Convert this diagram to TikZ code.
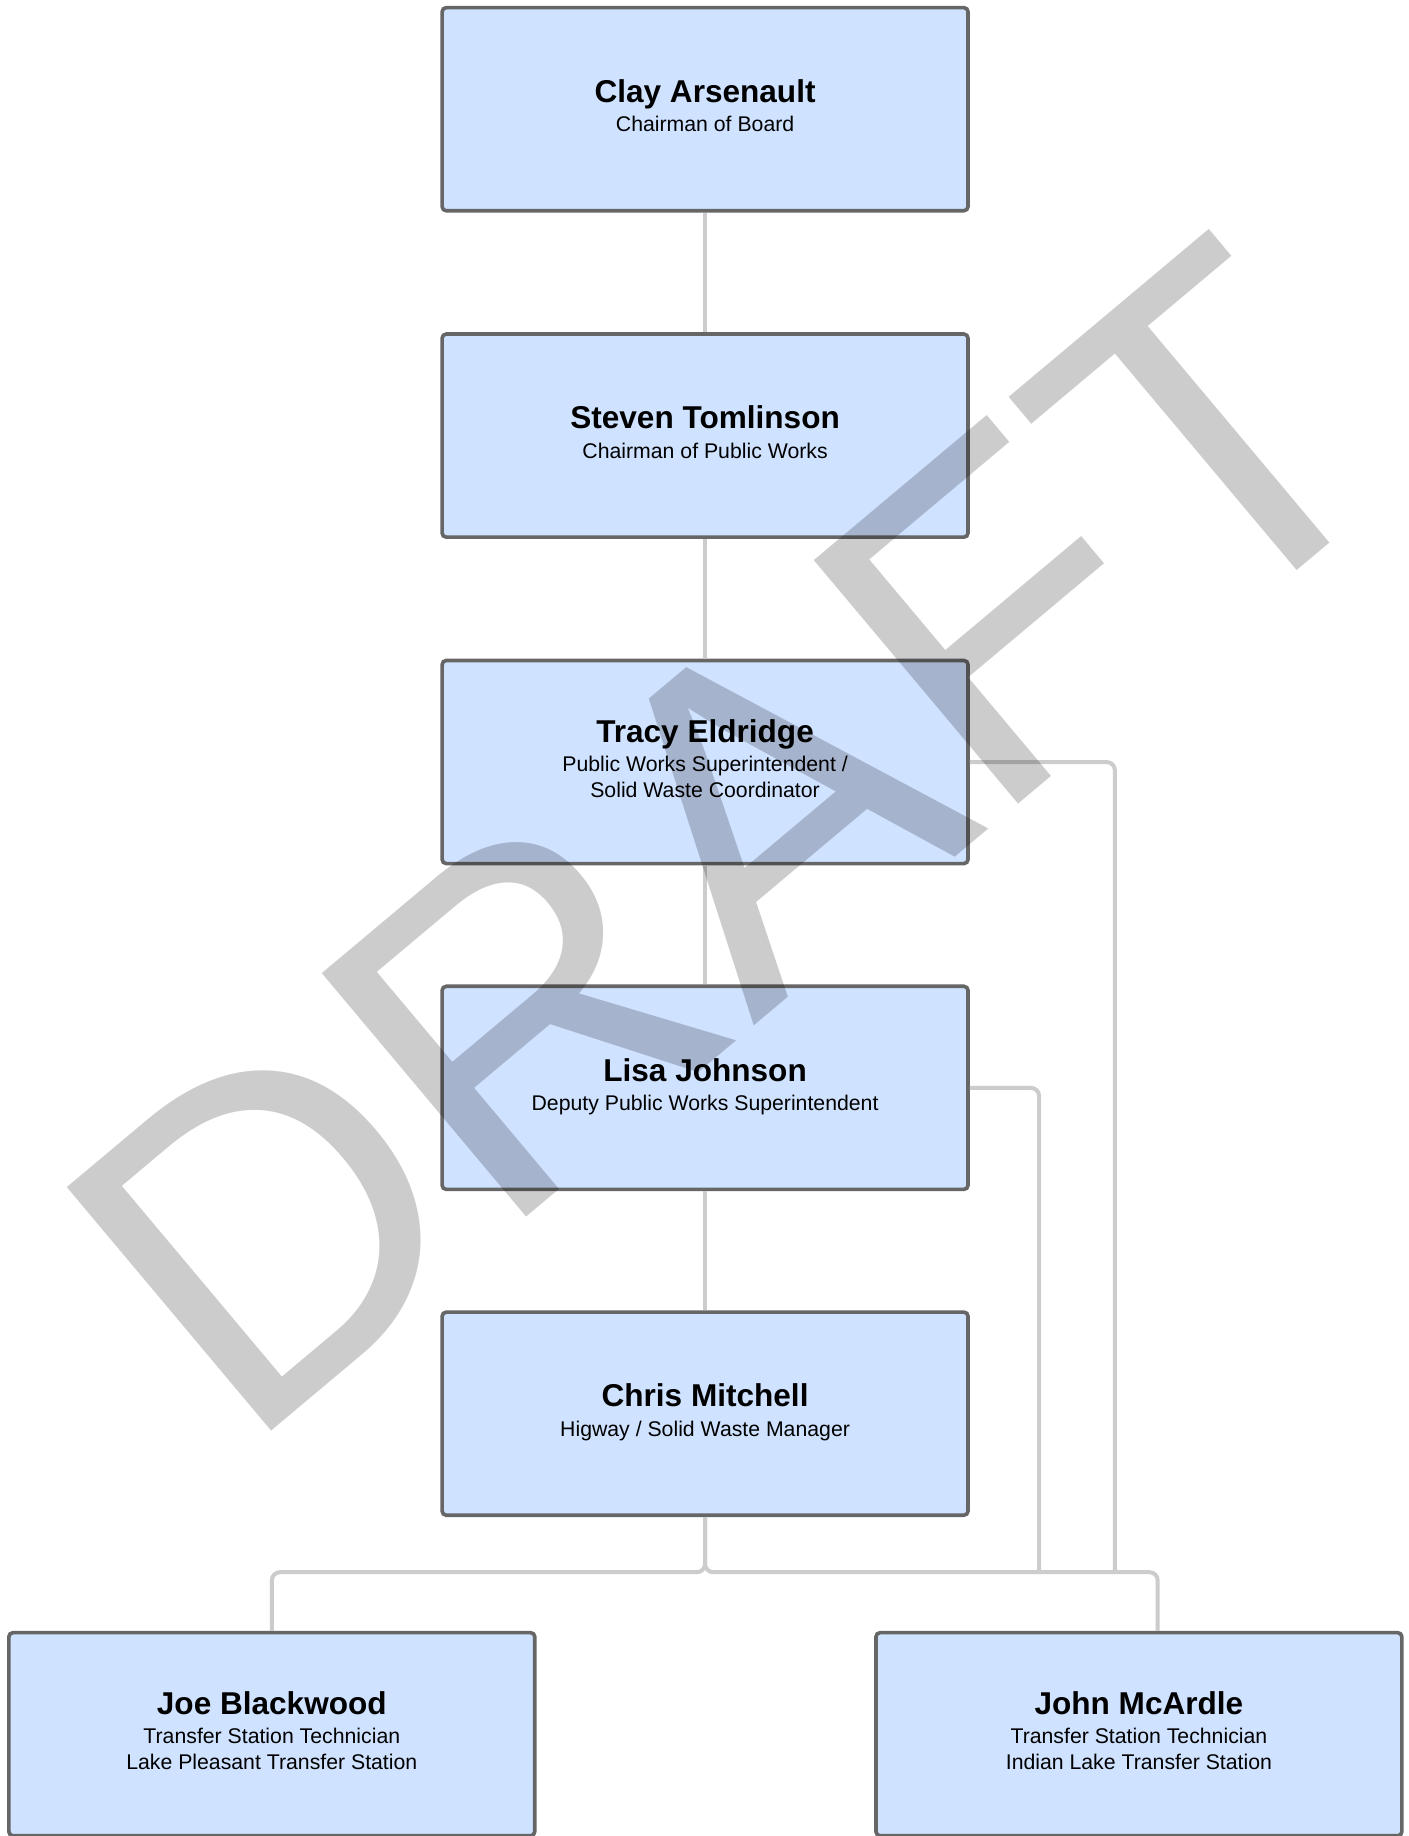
\documentclass[tikz,border=0pt]{standalone}
\usepackage{fontspec}
\setmainfont{Liberation Sans}
\definecolor{boxfill}{HTML}{CFE2FF}
\definecolor{boxline}{HTML}{666666}
\definecolor{linkgray}{HTML}{CCCCCC}
\newcommand{\who}[1]{{\fontsize{15.3}{15.3}\selectfont\bfseries #1}}

\begin{document}
\begin{tikzpicture}
	[
	x=0.02cm, y=-0.02cm,
	align=center,
	box/.style={draw=boxline, line width=1.76pt, fill=boxfill, rounded corners=2pt,
		minimum width=8.96cm, minimum height=3.46cm, inner sep=0pt, text depth=3.4pt,
		font=\fontsize{10.3}{12.5}\selectfont},
	link/.style={draw=linkgray, line width=1.93pt, rounded corners=4pt},
	]
		\useasboundingbox (0,0) rectangle (1200,1563.7);
		\clip (0,0) rectangle (1200,1563.7);
		\fill[white] (0,0) rectangle (1200,1563.7);

		% chain of command
		\node[box] (clay) at 		( 600.5,   93.0 ) {\who{Clay Arsenault}\\[1.7pt] Chairman of Board};
		\node[box] (steven) at 		( 600.5,  371.0 ) {\who{Steven Tomlinson}\\[1.7pt] Chairman of Public Works};
		\node[box] (tracy) at 		( 600.5,  649.0 ) {\who{Tracy Eldridge}\\[1.7pt] Public Works Superintendent /\\ Solid Waste Coordinator};
		\node[box] (lisa) at 		( 600.5,  926.5 ) {\who{Lisa Johnson}\\[1.7pt] Deputy Public Works Superintendent};
		\node[box] (chris) at 		( 600.5, 1204.0 ) {\who{Chris Mitchell}\\[1.7pt] Higway / Solid Waste Manager};

		% transfer stations
		\node[box] (joe) at 		( 231.5, 1477.0 ) {\who{Joe Blackwood}\\[1.7pt] Transfer Station Technician\\ Lake Pleasant Transfer Station};
		\node[box] (john) at 		( 970.0, 1477.0 ) {\who{John McArdle}\\[1.7pt] Transfer Station Technician\\ Indian Lake Transfer Station};

		% bus
		\coordinate (bus) at 		( 600.5, 1339.0 );
		\coordinate (busl) at 		( 885.0, 1339.0 );
		\coordinate (bust) at 		( 949.5, 1339.0 );

		\foreach \from/\to in {clay/steven,steven/tracy,tracy/lisa,lisa/chris} \draw[link] (\from) -- (\to);
		\draw[link] (chris.south) -- (bus) -| (joe.north);
		\draw[link] (chris.south) -- (bus) -| ([xshift=0.32cm]john.north);
		\draw[link] (tracy.east) -| (bust);
		\draw[link] (lisa.east) -| (busl);

		% watermark
		\node[rotate=40, anchor=base west, inner sep=0pt, text=black, text opacity=0.2,
			font=\fontsize{224}{224}\selectfont] (draft) at ( 206, 1240 ) {DRAFT};
	\end{tikzpicture}
\end{document}
